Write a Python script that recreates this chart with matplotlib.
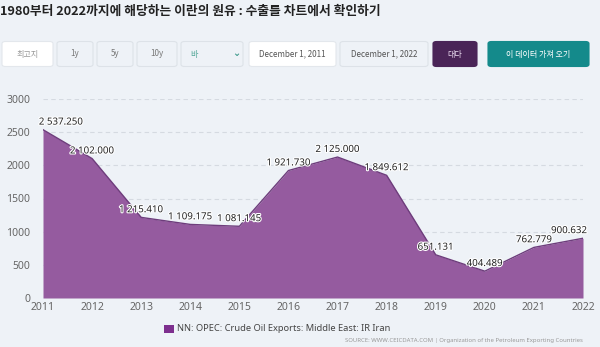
import matplotlib
matplotlib.use('Agg')
from matplotlib import pyplot as plt
from matplotlib.patches import FancyBboxPatch, Rectangle
import matplotlib.patheffects as pe

years = [2011, 2012, 2013, 2014, 2015, 2016, 2017, 2018, 2019, 2020, 2021, 2022]
exports = [2537.250, 2102.000, 1215.410, 1109.175, 1081.145, 1921.730,
           2125.000, 1849.612, 651.131, 404.489, 762.779, 900.632]
y_ticks = [0, 500, 1000, 1500, 2000, 2500, 3000]

title = '1980부터 2022까지에 해당하는 이란의 원유 : 수출를 차트에서 확인하기'
series_name = 'NN: OPEC: Crude Oil Exports: Middle East: IR Iran'
source = 'SOURCE: WWW.CEICDATA.COM | Organization of the Petroleum Exporting Countries'

BG = '#eef2f7'
FILL = '#955b9f'
LINE = '#6e3d7c'

W, H = 600, 347
fig = plt.figure(figsize=(W / 100, H / 100), dpi=100, facecolor=BG)


def fx(px):
    return px / W


def fy(py):
    return 1 - py / H


fig.text(fx(0), fy(11), title, fontsize=9.2, fontweight='bold',
         family=['Noto Sans CJK KR', 'DejaVu Sans'], color='#222222',
         va='center', ha='left')

# button bar
buttons = [
    (2, 53, '최고지', 'white', '#999999', '#e3e7ec'),
    (57, 93, '1y', BG, '#777777', '#dde2e8'),
    (97, 133, '5y', BG, '#777777', '#dde2e8'),
    (137, 177, '10y', BG, '#777777', '#dde2e8'),
    (181, 243, '바', BG, '#4fa596', '#dde2e8'),
    (249, 336, 'December 1, 2011', 'white', '#555555', '#e3e7ec'),
    (340, 428, 'December 1, 2022', BG, '#555555', '#dde2e8'),
    (433, 477, '대다', '#4a2457', '#e8d8ee', '#4a2457'),
    (488, 589, '이 데이터 가져 오기', '#148a8b', 'white', '#148a8b'),
]
top, bot = 41.5, 66.5
for x0, x1, label, face, tcol, edge in buttons:
    box = FancyBboxPatch((fx(x0), fy(bot)), fx(x1 - x0), (bot - top) / H,
                         boxstyle='round,pad=0,rounding_size=0.006',
                         transform=fig.transFigure, facecolor=face,
                         edgecolor=edge, linewidth=0.8)
    fig.patches.append(box)
    if label == '바':
        fig.text(fx(x0 + 9), fy((top + bot) / 2), label, fontsize=5.8,
                 family=['Noto Sans CJK KR', 'DejaVu Sans'], color=tcol,
                 ha='left', va='center')
        fig.text(fx(x1 - 7), fy((top + bot) / 2 - 1), '⌄', fontsize=7,
                 fontweight='bold', color='#3f9a8c', ha='center', va='center')
    else:
        fig.text(fx((x0 + x1) / 2), fy((top + bot) / 2), label, fontsize=5.8,
                 family=['Noto Sans CJK KR', 'DejaVu Sans'], color=tcol,
                 ha='center', va='center')

# chart area
ax = fig.add_axes([fx(43), fy(298), fx(583 - 43), (298 - 99) / H])
ax.set_facecolor(BG)
ax.fill_between(years, exports, 0, color=FILL, linewidth=0, zorder=2)
ax.plot(years, exports, color=LINE, linewidth=1, zorder=3)
ax.set_xlim(years[0], years[-1])
ax.set_ylim(0, 3000)
ax.set_yticks(y_ticks)
ax.set_xticks(years)
ax.grid(axis='y', color='#d5dae1', linestyle=(0, (4, 3)), linewidth=0.8, zorder=1)
for s in ax.spines.values():
    s.set_visible(False)
ax.tick_params(axis='both', length=0, colors='#666666', labelsize=7.5)
ax.tick_params(axis='y', pad=9)
ax.tick_params(axis='x', pad=3)
for lab in ax.get_xticklabels() + ax.get_yticklabels():
    lab.set_family('Noto Sans')

for i, (x, v) in enumerate(zip(years, exports)):
    txt = f'{v:,.3f}'.replace(',', ' ')
    ha, dx = 'center', 0
    if i == 0:
        ha, dx = 'left', -3
    elif i == len(years) - 1:
        ha, dx = 'right', 3
    ax.annotate(txt, (x, v), xytext=(dx, 5.5), textcoords='offset points',
                ha=ha, va='center', fontsize=7, family='Noto Sans',
                color='#222222', annotation_clip=False, zorder=5,
                path_effects=[pe.withStroke(linewidth=1.6, foreground='white')])

# legend
fig.patches.append(Rectangle((fx(164), fy(333)), fx(10), 8 / H,
                             transform=fig.transFigure, facecolor='#7d2f8e',
                             edgecolor='none'))
fig.text(fx(177), fy(328.5), series_name, fontsize=6.7, fontweight='semibold',
         family='Noto Sans', color='#444444', ha='left', va='center')
fig.text(fx(583), fy(340.5), source, fontsize=4.3, family='Noto Sans',
         color='#999999', ha='right', va='center')

fig.savefig('out.png', dpi=100, facecolor=BG)
